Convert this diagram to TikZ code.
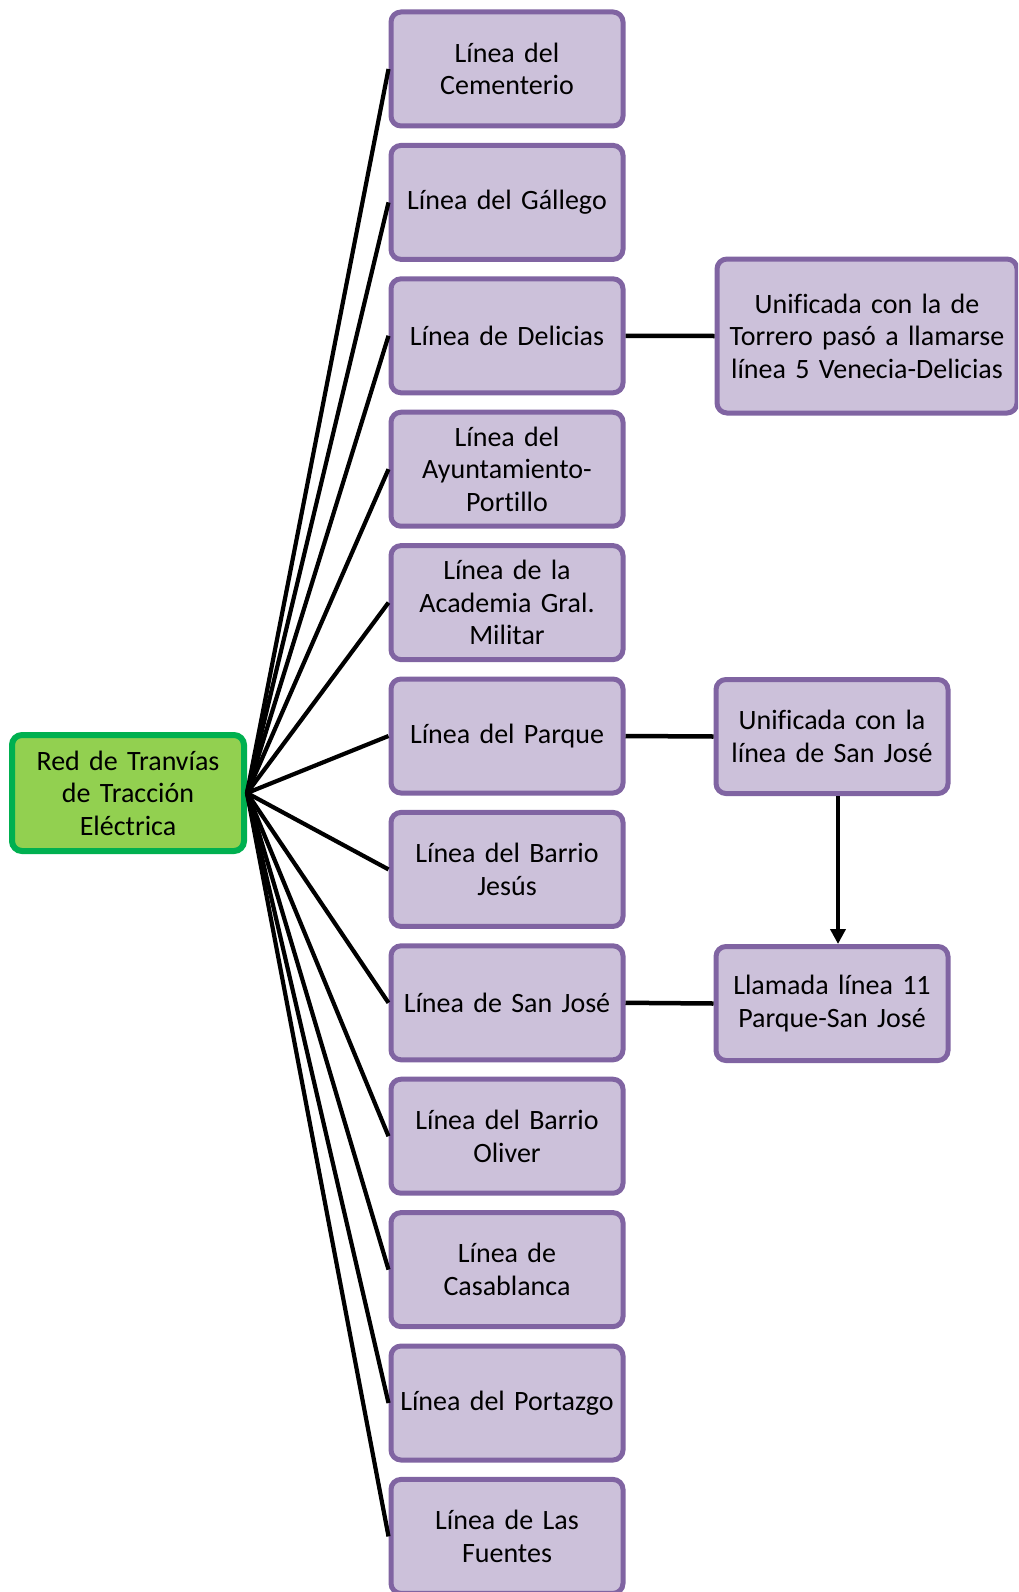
\documentclass[tikz,border=0pt]{standalone}
\usepackage{fontspec}
\setmainfont[Ligatures=CommonOff]{Carlito}
\usetikzlibrary{arrows.meta}
\definecolor{pborder}{HTML}{8064A2}
\definecolor{pfill}{HTML}{CCC1DA}
\definecolor{gborder}{HTML}{00B050}
\definecolor{gfill}{HTML}{92D050}
\tikzset{
  base/.style={line width=5pt, rounded corners=10pt, align=center,
    font=\fontsize{28}{32.5}\selectfont, inner sep=0pt},
  mbox/.style={base, draw=pborder, fill=pfill, minimum width=232pt, minimum height=114pt, text width=228pt},
  rootbox/.style={base, draw=gborder, fill=gfill, line width=6pt, minimum width=232pt, minimum height=116pt, text width=228pt},
  spoke/.style={line width=4.2pt, black},
  conn/.style={line width=4.5pt, black},
}
\begin{document}
\begin{tikzpicture}[x=1pt,y=-1pt]
\useasboundingbox (0,0) rectangle (1018,1592);
\clip (0,0) rectangle (1018,1592);
\node[rootbox] (root) at (128,793) {Red de Tranvías\\de Tracción\\Eléctrica};
\node[mbox] (b1) at (507,69.0) {Línea del\\Cementerio};
\node[mbox] (b2) at (507,202.4) {Línea del Gállego};
\node[mbox] (b3) at (507,335.8) {Línea de Delicias};
\node[mbox] (b4) at (507,469.2) {Línea del\\Ayuntamiento-\\Portillo};
\node[mbox] (b5) at (507,602.6) {Línea de la\\Academia Gral.\\Militar};
\node[mbox] (b6) at (507,736.0) {Línea del Parque};
\node[mbox] (b7) at (507,869.4) {Línea del Barrio\\Jesús};
\node[mbox] (b8) at (507,1002.8) {Línea de San José};
\node[mbox] (b9) at (507,1136.2) {Línea del Barrio\\Oliver};
\node[mbox] (b10) at (507,1269.6) {Línea de\\Casablanca};
\node[mbox] (b11) at (507,1403.0) {Línea del Portazgo};
\node[mbox] (b12) at (507,1536.4) {Línea de Las\\Fuentes};
\node[mbox, minimum width=300pt, minimum height=154pt, text width=296pt] (r1) at (867,336) {Unificada con la de\\Torrero pasó a llamarse\\línea 5 Venecia-Delicias};
\node[mbox] (r2) at (832,736.5) {Unificada con la\\línea de San José};
\node[mbox] (r3) at (832,1003.5) {Llamada línea 11\\Parque-San José};
\foreach \i in {1,...,12} {
  \draw[spoke] (root.east) -- (b\i.west);
}
\draw[conn] (b3.east) -- (r1.west);
\draw[conn] (b6.east) -- (r2.west);
\draw[conn] (b8.east) -- (r3.west);
\coordinate (ax) at (838,0);
\coordinate (a1) at (r2.south -| ax);
\coordinate (a2) at (r3.north -| ax);
\draw[conn, -{Triangle[length=15pt,width=15pt]}] (a1) -- (a2);
\end{tikzpicture}
\end{document}
